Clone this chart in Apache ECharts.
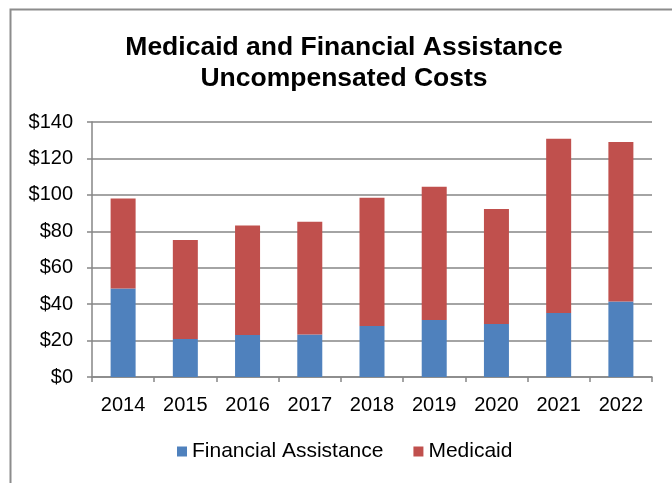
<!DOCTYPE html>
<html>
<head>
<meta charset="utf-8">
<script src="https://cdn.jsdelivr.net/npm/echarts@6/dist/echarts.min.js"></script>
<style>html,body{margin:0;padding:0;background:#fff}#c{width:672px;height:483px}</style>
</head>
<body>
<div id="c"></div>
<script>
const years = ['2014','2015','2016','2017','2018','2019','2020','2021','2022'];
const financialAssistance = [48.6, 20.9, 23.1, 23.4, 28.0, 31.3, 29.1, 35.1, 41.5];
const medicaid = [49.4, 54.3, 60.1, 61.9, 70.4, 73.2, 63.1, 95.7, 87.5];
const yTicks = [0, 20, 40, 60, 80, 100, 120, 140];

const chart = echarts.init(document.getElementById('c'), null, {renderer: 'canvas'});
const font = '"Liberation Sans", Arial, sans-serif';
chart.setOption({
  animation: false,
  backgroundColor: '#fff',
  graphic: [{
    type: 'rect', left: 8, top: 7,
    shape: {width: 700, height: 520},
    style: {fill: 'none', stroke: '#8c8c8c', lineWidth: 2}
  }],
  title: {
    text: 'Medicaid and Financial Assistance\nUncompensated Costs',
    left: 339, textAlign: 'center', top: 27,
    textStyle: {fontFamily: font, fontWeight: 'bold', fontSize: 26.5, lineHeight: 31, color: '#000'}
  },
  legend: {
    bottom: 16, left: 172,
    itemWidth: 10, itemHeight: 10, itemGap: 30,
    icon: 'rect',
    textStyle: {fontFamily: font, fontSize: 21, color: '#000'},
    data: ['Financial Assistance', 'Medicaid']
  },
  grid: {left: 92, right: 20, top: 122, bottom: 106, containLabel: false},
  xAxis: {
    type: 'category', data: years,
    axisLine: {lineStyle: {color: '#868686', width: 1.5}},
    axisTick: {show: true, length: 5, alignWithLabel: false, lineStyle: {color: '#868686', width: 1.5}},
    axisLabel: {fontFamily: font, fontSize: 20, color: '#000', margin: 18}
  },
  yAxis: {
    type: 'value', min: yTicks[0], max: yTicks[yTicks.length - 1], interval: 20,
    axisLine: {show: true, lineStyle: {color: '#868686', width: 1.5}},
    axisTick: {show: true, length: 5, lineStyle: {color: '#868686', width: 1.5}},
    splitLine: {lineStyle: {color: '#868686', width: 1.5}},
    axisLabel: {fontFamily: font, fontSize: 20, color: '#000', margin: 19, formatter: v => '$' + v}
  },
  series: [
    {name: 'Financial Assistance', type: 'bar', stack: 'total', data: financialAssistance,
     barWidth: 25, itemStyle: {color: '#4F81BD'}},
    {name: 'Medicaid', type: 'bar', stack: 'total', data: medicaid,
     barWidth: 25, itemStyle: {color: '#C0504D'}}
  ]
});
</script>
</body>
</html>
